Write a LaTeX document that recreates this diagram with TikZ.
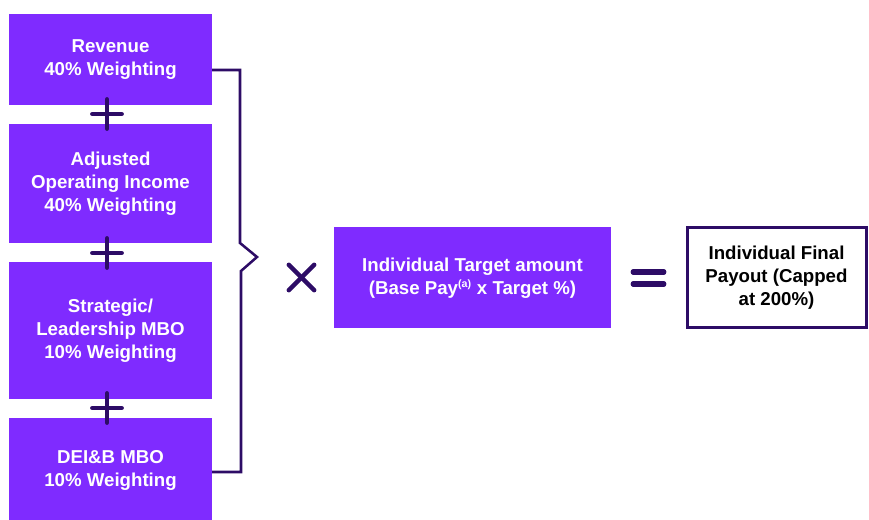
\documentclass[tikz,border=0pt]{standalone}
\usepackage{fontspec}
\setmainfont{Liberation Sans}
\definecolor{vio}{RGB}{127,43,255}
\definecolor{dk}{RGB}{45,12,102}
\begin{document}
\begin{tikzpicture}[x=0.75pt,y=-0.75pt,
  every node/.style={inner sep=0pt, outer sep=0pt, align=center,
    font=\fontsize{14pt}{17.25pt}\selectfont\bfseries},
  vbox/.style={fill=vio, text=white, minimum width=152.25pt},
  sym/.style={draw=dk, line width=3.4pt, line cap=round},
  bracket/.style={draw=dk, line width=1.9pt, line join=miter}]
\useasboundingbox (0,0) rectangle (869,520);
\node[vbox, minimum height=68.25pt] (b1) at (110.5,60) {Revenue\\40\% Weighting};
\node[vbox, minimum height=89.25pt] (b2) at (110.5,184) {Adjusted\\Operating Income\\40\% Weighting};
\node[vbox, minimum height=102.75pt] (b3) at (110.5,331) {Strategic/\\Leadership MBO\\10\% Weighting};
\node[vbox, minimum height=77.25pt] (b4) at (110.5,470) {DEI\&B MBO\\10\% Weighting};
% plus signs
\foreach \n/\yy in {p1/114, p2/253, p3/408}{
  \coordinate (\n) at (107,\yy);
  \draw[sym] ([xshift=-11pt]\n) -- ([xshift=11pt]\n);
  \draw[sym] ([yshift=-11pt]\n) -- ([yshift=11pt]\n);
}
% bracket
\coordinate (k1) at (240,70);
\coordinate (k2) at (240,243);
\coordinate (tip) at (257,257);
\coordinate (k3) at (241,271);
\coordinate (k4) at (241,472);
\draw[bracket] ([yshift=-7.5pt]b1.east) -- (k1) -- (k2) -- (tip) -- (k3) -- (k4) -- ([yshift=-1.5pt]b4.east);
% times sign
\coordinate (tm) at (301.5,277.5);
\draw[sym] ([xshift=-9.5pt,yshift=-9.5pt]tm) -- ([xshift=9.5pt,yshift=9.5pt]tm);
\draw[sym] ([xshift=-9.5pt,yshift=9.5pt]tm) -- ([xshift=9.5pt,yshift=-9.5pt]tm);
\node[vbox, minimum width=207.75pt, minimum height=75.75pt] (mid) at (472.5,278)
  {Individual Target amount\\(Base Pay\textsuperscript{\fontsize{8pt}{8pt}\selectfont(a)} x Target \%)};
% equals sign
\coordinate (eq) at (648.5,278);
\draw[sym, line width=3.9pt] ([xshift=-11.5pt,yshift=4.5pt]eq) -- ([xshift=11.5pt,yshift=4.5pt]eq);
\draw[sym, line width=3.9pt] ([xshift=-11.5pt,yshift=-4.5pt]eq) -- ([xshift=11.5pt,yshift=-4.5pt]eq);
\node[draw=dk, line width=2.25pt, fill=white, text=black, minimum width=134.25pt, minimum height=75pt] (fin) at (776.5,277.5)
  {Individual Final\\Payout (Capped\\at 200\%)};
\end{tikzpicture}
\end{document}
